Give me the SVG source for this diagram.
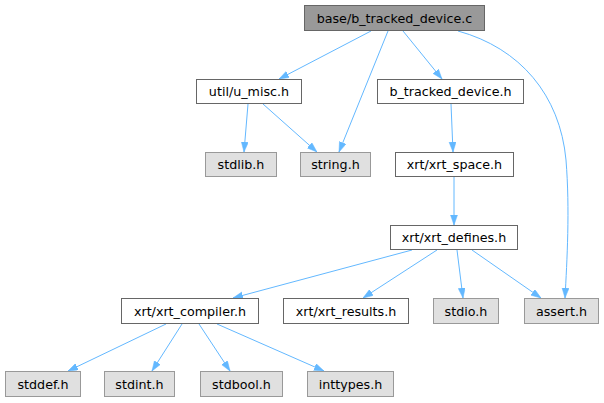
<svg xmlns="http://www.w3.org/2000/svg" width="604" height="403" viewBox="0 0 604 403">
<defs>
<style>
.n rect{fill:#ffffff;stroke:#666666;stroke-width:1}
.g rect{fill:#e0e0e0;stroke:#999999;stroke-width:1}
.r rect{fill:#999999;stroke:#666666;stroke-width:1}
text{font-family:"DejaVu Sans","Liberation Sans",sans-serif;font-size:12.7px;fill:#000000;text-anchor:middle}
.e path,.e line{stroke:#63b8ff;stroke-width:1;fill:none;marker-end:url(#ah)}
</style>
<marker id="ah" markerUnits="userSpaceOnUse" markerWidth="10" markerHeight="8" refX="10" refY="3.5" orient="auto">
<path d="M0,0 L10,3.5 L0,7 z" fill="#63b8ff" stroke="#63b8ff" stroke-width="0.5"/>
</marker>
</defs>
<rect width="604" height="403" fill="#ffffff"/>
<g id="edges" class="e">
<line x1="371" y1="31" x2="279" y2="79"/>
<line x1="388" y1="31" x2="339" y2="152"/>
<line x1="403" y1="31" x2="442" y2="79"/>
<path d="M458,31 C520,48 560,95 566,160 C570,210 567,260 565,298"/>
<line x1="248" y1="104" x2="244" y2="152"/>
<line x1="263" y1="104" x2="317" y2="152"/>
<line x1="451" y1="104" x2="453" y2="152"/>
<line x1="454" y1="177" x2="454" y2="225"/>
<line x1="412" y1="250" x2="233" y2="298"/>
<line x1="437" y1="250" x2="363" y2="298"/>
<line x1="457" y1="250" x2="463" y2="298"/>
<line x1="472" y1="250" x2="541" y2="298"/>
<line x1="166" y1="324" x2="68" y2="371"/>
<line x1="182" y1="324" x2="152" y2="371"/>
<line x1="199" y1="324" x2="230" y2="371"/>
<line x1="217" y1="324" x2="324" y2="371"/>
</g>
<g id="base" class="r"><rect x="304.5" y="5.5" width="180" height="25"/><text x="394.5" y="22.5">base/b_tracked_device.c</text></g>
<g id="u_misc" class="n"><rect x="196.5" y="79.5" width="105" height="24"/><text x="249" y="96">util/u_misc.h</text></g>
<g id="btd_h" class="n"><rect x="377.5" y="79.5" width="146" height="24"/><text x="450.5" y="96">b_tracked_device.h</text></g>
<g id="stdlib" class="g"><rect x="205.5" y="152.5" width="71" height="24"/><text x="241" y="169">stdlib.h</text></g>
<g id="string" class="g"><rect x="300.5" y="152.5" width="70" height="24"/><text x="335.5" y="169">string.h</text></g>
<g id="space" class="n"><rect x="395.5" y="152.5" width="118" height="24"/><text x="454.5" y="169">xrt/xrt_space.h</text></g>
<g id="defines" class="n"><rect x="390.5" y="225.5" width="127" height="24"/><text x="454" y="242">xrt/xrt_defines.h</text></g>
<g id="compiler" class="n"><rect x="121.5" y="298.5" width="137" height="25"/><text x="190" y="315.5">xrt/xrt_compiler.h</text></g>
<g id="results" class="n"><rect x="283.5" y="298.5" width="125" height="25"/><text x="346" y="315.5">xrt/xrt_results.h</text></g>
<g id="stdio" class="g"><rect x="433.5" y="298.5" width="65" height="25"/><text x="466" y="315.5">stdio.h</text></g>
<g id="assert" class="g"><rect x="524.5" y="298.5" width="74" height="25"/><text x="561.5" y="315.5">assert.h</text></g>
<g id="stddef" class="g"><rect x="5.5" y="371.5" width="75" height="25"/><text x="43" y="388.5">stddef.h</text></g>
<g id="stdint" class="g"><rect x="104.5" y="371.5" width="70" height="25"/><text x="139.5" y="388.5">stdint.h</text></g>
<g id="stdbool" class="g"><rect x="200.5" y="371.5" width="82" height="25"/><text x="241.5" y="388.5">stdbool.h</text></g>
<g id="inttypes" class="g"><rect x="307.5" y="371.5" width="86" height="25"/><text x="350.5" y="388.5">inttypes.h</text></g>
</svg>
